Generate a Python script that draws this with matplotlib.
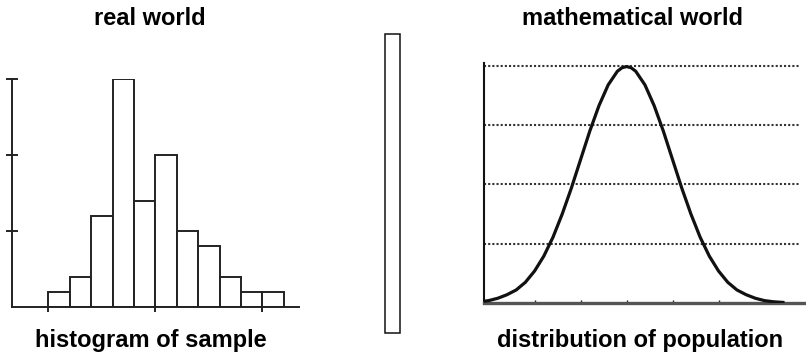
import matplotlib
matplotlib.use("Agg")
import matplotlib.pyplot as plt
from matplotlib.patches import Rectangle

# ---- data ----
bin_edges_left = [0, 1, 2, 3, 4, 5, 6, 7, 8, 9, 10]
counts = [1, 2, 6, 15, 7, 10, 5, 4, 2, 1, 1]
hist_xticks = [0, 5, 10]
hist_yticks = [5, 10, 15]

curve_x = [-3.2, -3.0, -2.8, -2.6, -2.4, -2.2, -2.0, -1.8, -1.6, -1.4, -1.2, -1.0,
           -0.8, -0.6, -0.4, -0.2, -0.1, 0.0, 0.1, 0.2, 0.4, 0.6, 0.8, 1.0, 1.2, 1.4, 1.6,
           1.8, 2.0, 2.2, 2.4, 2.6, 2.8, 3.0, 3.2, 3.4]
curve_y = [0.002, 0.004, 0.008, 0.014, 0.022, 0.035, 0.054, 0.079, 0.111, 0.150,
           0.194, 0.242, 0.290, 0.333, 0.368, 0.391, 0.397, 0.399, 0.397, 0.391, 0.368, 0.333,
           0.290, 0.242, 0.194, 0.150, 0.111, 0.079, 0.054, 0.035, 0.022, 0.014,
           0.008, 0.004, 0.002, 0.001]
grid_levels = [0.1, 0.2, 0.3, 0.4]
dist_xticks = [-3, -2, -1, 0, 1, 2, 3]

titles_top = ["real world", "mathematical world"]
titles_bottom = ["histogram of sample", "distribution of population"]

W, H = 806, 356
fig = plt.figure(figsize=(W / 100, H / 100), dpi=100)
plt.rcParams['font.family'] = ['Liberation Sans', 'DejaVu Sans']

def px_axes(x0, y0, x1, y1):
    return fig.add_axes([x0 / W, (H - y1) / H, (x1 - x0) / W, (y1 - y0) / H])

# ---- left: histogram ----
ax1 = px_axes(12, 79, 299, 307)
ax1.bar(bin_edges_left, counts, width=1, align='edge', facecolor='white',
        edgecolor='#222222', linewidth=1.4)
ax1.set_xlim(-1.70, 11.71)
ax1.set_ylim(0, 15)
for s in ['top', 'right']:
    ax1.spines[s].set_visible(False)
for s in ['left', 'bottom']:
    ax1.spines[s].set_linewidth(1.4)
    ax1.spines[s].set_color('#222222')
ax1.set_xticks(hist_xticks)
ax1.set_yticks(hist_yticks)
ax1.set_xticklabels([])
ax1.set_yticklabels([])
ax1.tick_params(axis='x', direction='out', length=3.8, width=1.4, color='#222222')
ax1.tick_params(axis='y', direction='inout', length=8, width=1.4, color='#222222')

# ---- right: distribution ----
ax2 = px_axes(484, 63, 805, 303)
ax2.plot(curve_x, curve_y, color='#111111', linewidth=2.3, solid_joinstyle='round',
         zorder=3)
ax2.set_xlim(-3.1, 3.88)
ax2.set_ylim(0, 0.405)
for lv in grid_levels:
    ax2.axhline(lv, xmin=0, xmax=0.985, color='#333333', linewidth=1.5,
                linestyle=(0, (1, 1)), zorder=1)
for s in ['top', 'right']:
    ax2.spines[s].set_visible(False)
ax2.spines['left'].set_linewidth(1.5)
ax2.spines['left'].set_color('#111111')
ax2.spines['bottom'].set_linewidth(2.4)
ax2.spines['bottom'].set_color('#555555')
ax2.set_xticks(dist_xticks)
ax2.set_yticks([])
ax2.set_xticklabels([])
ax2.tick_params(axis='x', direction='in', length=2, width=1, color='#222222')

# ---- divider ----
fig.patches.append(Rectangle((385 / W, (H - 333) / H), 15 / W, 299 / H,
                             transform=fig.transFigure, facecolor='white',
                             edgecolor='#111111', linewidth=1.1))

# ---- texts ----
fs = 17
fig.text(150 / W, (H - 25) / H, titles_top[0], ha='center', va='baseline',
         fontsize=fs, fontweight='bold')
fig.text(632 / W, (H - 25) / H, titles_top[1], ha='center', va='baseline',
         fontsize=fs, fontweight='bold')
fig.text(151 / W, (H - 347) / H, titles_bottom[0], ha='center', va='baseline',
         fontsize=fs, fontweight='bold')
fig.text(640 / W, (H - 347) / H, titles_bottom[1], ha='center', va='baseline',
         fontsize=fs, fontweight='bold')

fig.savefig("out.png", dpi=100)
